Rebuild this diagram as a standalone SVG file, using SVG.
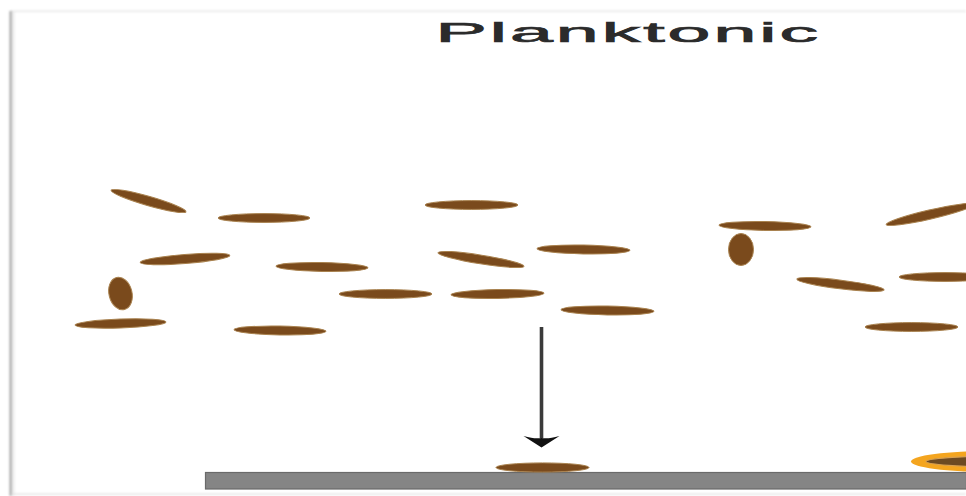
<svg xmlns="http://www.w3.org/2000/svg" width="966" height="496" viewBox="0 0 966 496">
  <style>
    .cell { fill: #7a4a1c; stroke: #a9824f; stroke-width: 1; }
    .title { font-family: "Liberation Sans", Arial, sans-serif; font-size: 28px; fill: #2b2b2b; stroke: #2b2b2b; stroke-width: 0.7px; letter-spacing: 1.1px; }
  </style>
  <defs>
    <filter id="soft" x="-20%" y="-20%" width="140%" height="140%"><feGaussianBlur stdDeviation="0.9"/></filter>
  </defs>

  <rect width="966" height="496" fill="#ffffff"/>

  <!-- page frame -->
  <g id="frame" filter="url(#soft)">
    <rect x="10" y="10.5" width="956" height="1.6" fill="#e8e8e8"/>
    <rect x="9.5" y="11" width="2.4" height="485" fill="#a8a8a8"/>
    <rect x="12" y="12" width="3" height="484" fill="#f0f0f0"/>
    <rect x="11" y="493.5" width="955" height="1.2" fill="#dddddd"/>
  </g>

  <g id="title">
    <text class="title" transform="translate(435.5 42) scale(2.75 1)" x="0" y="0">Planktonic</text>
  </g>

  <!-- substrate -->
  <g id="surface">
    <rect x="205.5" y="472.5" width="761" height="16.5" fill="#858585" stroke="#6a6a6a" stroke-width="1.2"/>
  </g>

  <!-- planktonic cells -->
  <g id="cell-01"><ellipse class="cell" cx="148.5" cy="201" rx="39" ry="4.6" transform="rotate(16 148.5 201)"/></g>
  <g id="cell-02"><ellipse class="cell" cx="264" cy="218" rx="46" ry="4.4"/></g>
  <g id="cell-03"><ellipse class="cell" cx="185" cy="259" rx="45" ry="4.5" transform="rotate(-4.5 185 259)"/></g>
  <g id="cell-04"><ellipse class="cell" cx="322" cy="267" rx="46" ry="4.4" transform="rotate(1 322 267)"/></g>
  <g id="cell-05"><ellipse class="cell" cx="120.5" cy="293.5" rx="11.5" ry="16.5" transform="rotate(-14 120.5 293.5)"/></g>
  <g id="cell-06"><ellipse class="cell" cx="120.5" cy="323.5" rx="45.5" ry="4.5" transform="rotate(-2 120.5 323.5)"/></g>
  <g id="cell-07"><ellipse class="cell" cx="280" cy="330.5" rx="46" ry="4.4" transform="rotate(1 280 330.5)"/></g>
  <g id="cell-08"><ellipse class="cell" cx="385.5" cy="294" rx="46.5" ry="4.4"/></g>
  <g id="cell-09"><ellipse class="cell" cx="471.5" cy="205" rx="46.5" ry="4.4"/></g>
  <g id="cell-10"><ellipse class="cell" cx="481" cy="259.5" rx="43.5" ry="4.4" transform="rotate(9 481 259.5)"/></g>
  <g id="cell-11"><ellipse class="cell" cx="583.5" cy="249.5" rx="46.5" ry="4.4" transform="rotate(1 583.5 249.5)"/></g>
  <g id="cell-12"><ellipse class="cell" cx="497.5" cy="294" rx="46.5" ry="4.4" transform="rotate(-1 497.5 294)"/></g>
  <g id="cell-13"><ellipse class="cell" cx="607.5" cy="310.5" rx="46.5" ry="4.4" transform="rotate(1 607.5 310.5)"/></g>
  <g id="cell-14"><ellipse class="cell" cx="765" cy="226" rx="46" ry="4.4" transform="rotate(1 765 226)"/></g>
  <g id="cell-15"><ellipse class="cell" cx="741" cy="249.5" rx="12.5" ry="16"/></g>
  <g id="cell-16"><ellipse class="cell" cx="930" cy="214.5" rx="45" ry="4.6" transform="rotate(-13 930 214.5)"/></g>
  <g id="cell-17"><ellipse class="cell" cx="840.5" cy="284.5" rx="44" ry="4.4" transform="rotate(7 840.5 284.5)"/></g>
  <g id="cell-18"><ellipse class="cell" cx="945" cy="277" rx="46" ry="4.4"/></g>
  <g id="cell-19"><ellipse class="cell" cx="911.5" cy="327" rx="46.5" ry="4.4"/></g>

  <!-- settled cell on the surface -->
  <g id="cell-20"><ellipse class="cell" cx="542.5" cy="467.5" rx="46.5" ry="4.6"/></g>

  <!-- cell held in an orange matrix at the right edge -->
  <g id="attached-cell">
    <ellipse cx="992" cy="461.5" rx="81" ry="10.5" fill="#f4a51f"/>
    <ellipse cx="1002" cy="461.5" rx="76" ry="5.5" fill="#6d4a22" stroke="#d8a050" stroke-width="1.2"/>
  </g>

  <!-- settling direction -->
  <g id="connectors">
    <path d="M541.5 327V438" fill="none" stroke="#3a3a3a" stroke-width="3.6"/>
    <path d="M523.5 436C532 438.5 537 438.5 541.5 438C546 438.5 551 438.5 559.5 436L541.5 447.5Z" fill="#111111"/>
  </g>
</svg>
